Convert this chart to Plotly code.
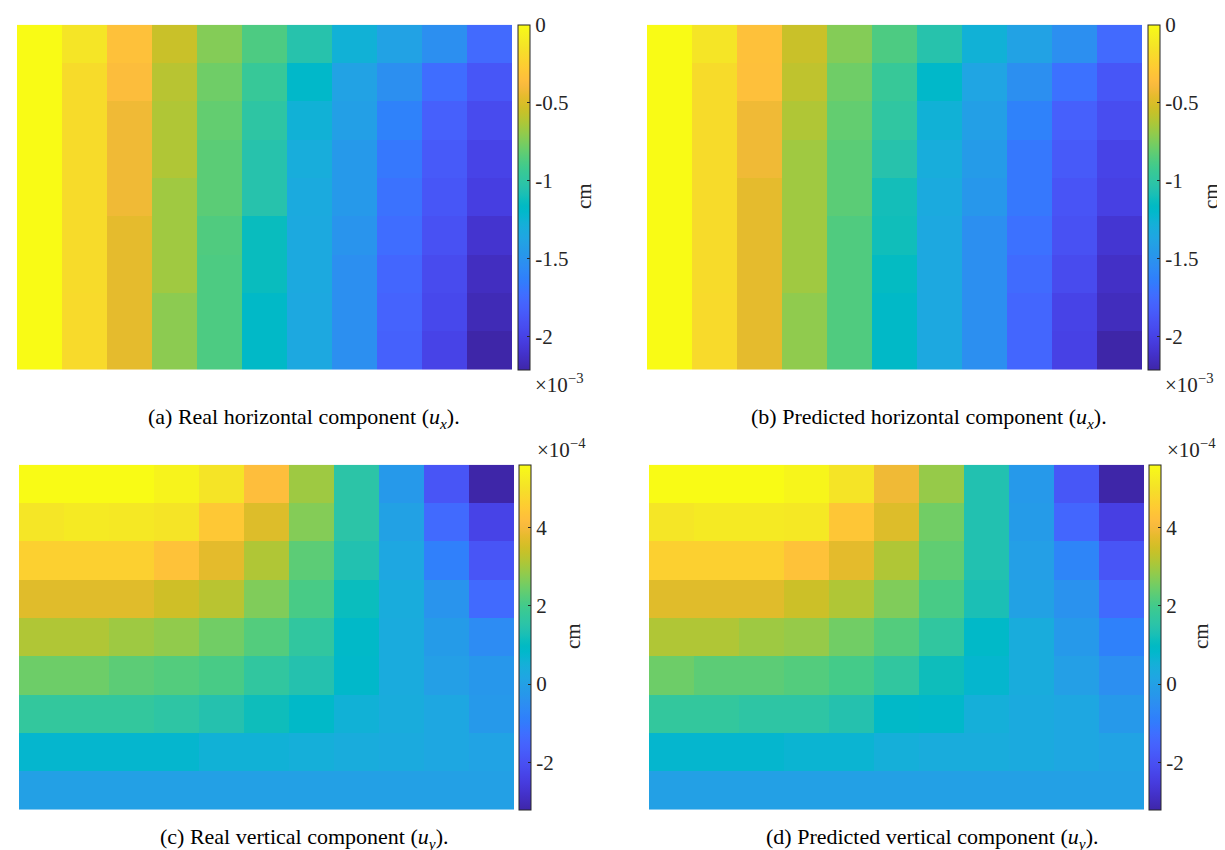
import plotly.graph_objects as go

W, H = 1225, 850

# ---------------- data ----------------
# horizontal displacement u_x, units of 1e-3 cm (rows top -> bottom, 11 columns)
ux_real = [
    [0, -0.13, -0.33, -0.55, -0.73, -0.87, -1.04, -1.26, -1.39, -1.52, -1.75],
    [0, -0.18, -0.36, -0.60, -0.78, -0.95, -1.19, -1.39, -1.52, -1.73, -1.87],
    [0, -0.18, -0.42, -0.62, -0.81, -1.00, -1.26, -1.41, -1.61, -1.81, -1.94],
    [0, -0.18, -0.42, -0.62, -0.83, -1.04, -1.30, -1.46, -1.67, -1.85, -1.99],
    [0, -0.18, -0.42, -0.66, -0.83, -1.04, -1.32, -1.46, -1.70, -1.87, -2.02],
    [0, -0.18, -0.46, -0.66, -0.86, -1.13, -1.33, -1.49, -1.73, -1.90, -2.09],
    [0, -0.18, -0.46, -0.66, -0.87, -1.13, -1.33, -1.52, -1.77, -1.94, -2.14],
    [0, -0.19, -0.46, -0.71, -0.87, -1.18, -1.34, -1.52, -1.79, -1.96, -2.17],
    [0, -0.19, -0.46, -0.71, -0.87, -1.18, -1.34, -1.52, -1.80, -1.99, -2.21],
]
ux_pred = [
    [0, -0.13, -0.33, -0.55, -0.73, -0.87, -1.04, -1.26, -1.39, -1.52, -1.75],
    [0, -0.18, -0.34, -0.58, -0.78, -0.95, -1.19, -1.37, -1.52, -1.71, -1.87],
    [0, -0.18, -0.42, -0.62, -0.81, -0.99, -1.26, -1.41, -1.61, -1.81, -1.93],
    [0, -0.18, -0.42, -0.66, -0.83, -1.04, -1.30, -1.44, -1.67, -1.85, -1.99],
    [0, -0.18, -0.46, -0.66, -0.83, -1.10, -1.32, -1.47, -1.67, -1.88, -2.01],
    [0, -0.18, -0.46, -0.66, -0.86, -1.11, -1.34, -1.52, -1.71, -1.90, -2.08],
    [0, -0.18, -0.46, -0.66, -0.86, -1.15, -1.34, -1.52, -1.74, -1.94, -2.12],
    [0, -0.19, -0.46, -0.70, -0.86, -1.18, -1.34, -1.52, -1.77, -1.99, -2.15],
    [0, -0.19, -0.46, -0.70, -0.86, -1.18, -1.34, -1.52, -1.77, -2.00, -2.21],
]
# vertical displacement u_y, units of 1e-4 cm
uy_real = [
    [5.61, 5.61, 5.61, 5.43, 5.08, 4.20, 2.96, 1.55, -0.21, -1.89, -3.21],
    [5.12, 5.21, 5.17, 5.08, 4.46, 3.67, 2.70, 1.55, 0.05, -1.36, -2.33],
    [4.64, 4.64, 4.64, 4.33, 3.76, 3.14, 2.30, 1.38, 0.23, -0.87, -1.89],
    [3.71, 3.71, 3.71, 3.49, 3.23, 2.66, 2.08, 1.11, 0.41, -0.34, -1.36],
    [3.14, 3.14, 2.96, 2.83, 2.52, 2.21, 1.69, 0.89, 0.36, -0.12, -0.56],
    [2.48, 2.48, 2.30, 2.21, 2.08, 1.69, 1.42, 0.85, 0.36, -0.03, -0.26],
    [1.73, 1.73, 1.73, 1.60, 1.42, 1.16, 0.89, 0.58, 0.41, 0.23, -0.21],
    [0.76, 0.76, 0.76, 0.76, 0.58, 0.58, 0.49, 0.41, 0.32, 0.23, 0.10],
    [0.00, 0.00, 0.00, 0.00, 0.00, 0.00, 0.00, 0.00, 0.00, 0.00, 0.00],
]
uy_pred = [
    [5.61, 5.61, 5.61, 5.47, 5.08, 3.93, 2.88, 1.38, -0.21, -1.84, -3.21],
    [5.12, 5.21, 5.21, 5.17, 4.42, 3.67, 2.52, 1.38, -0.12, -1.45, -2.42],
    [4.64, 4.64, 4.64, 4.33, 3.76, 3.14, 2.35, 1.38, -0.03, -0.74, -1.89],
    [3.71, 3.71, 3.71, 3.45, 3.14, 2.66, 2.08, 1.29, 0.05, -0.39, -1.36],
    [3.14, 3.14, 2.96, 2.88, 2.52, 2.21, 1.69, 0.89, 0.41, -0.21, -0.83],
    [2.48, 2.30, 2.30, 2.21, 2.04, 1.69, 1.16, 0.76, 0.41, -0.03, -0.48],
    [1.73, 1.73, 1.60, 1.60, 1.42, 0.89, 0.85, 0.49, 0.32, 0.23, -0.21],
    [0.76, 0.76, 0.76, 0.67, 0.67, 0.49, 0.41, 0.41, 0.32, 0.23, 0.10],
    [0.00, 0.00, 0.00, 0.00, 0.00, 0.00, 0.00, 0.00, 0.00, 0.00, 0.00],
]

ux_ticks = [0, -0.5, -1, -1.5, -2]
ux_ticktext = ["0", "-0.5", "-1", "-1.5", "-2"]
uy_ticks = [4, 2, 0, -2]
uy_ticktext = ["4", "2", "0", "-2"]

captions = [
    "(a) Real horizontal component (<i>u</i><sub><i>x</i></sub>).",
    "(b) Predicted horizontal component (<i>u</i><sub><i>x</i></sub>).",
    "(c) Real vertical component (<i>u</i><sub><i>y</i></sub>).",
    "(d) Predicted vertical component (<i>u</i><sub><i>y</i></sub>).",
]
exponents = ["×10<sup>−3</sup>", "×10<sup>−3</sup>", "×10<sup>−4</sup>", "×10<sup>−4</sup>"]
unit_label = "cm"

# MATLAB parula (64 entries)
parula = [
    [0.2422, 0.1504, 0.6603], [0.2504, 0.1650, 0.7076], [0.2578, 0.1818, 0.7511], [0.2647, 0.1978, 0.7952],
    [0.2706, 0.2147, 0.8364], [0.2751, 0.2342, 0.8710], [0.2783, 0.2559, 0.8991], [0.2803, 0.2782, 0.9221],
    [0.2813, 0.3006, 0.9414], [0.2810, 0.3228, 0.9579], [0.2795, 0.3447, 0.9717], [0.2760, 0.3667, 0.9829],
    [0.2699, 0.3892, 0.9906], [0.2602, 0.4123, 0.9952], [0.2440, 0.4358, 0.9988], [0.2206, 0.4603, 0.9973],
    [0.1963, 0.4847, 0.9892], [0.1834, 0.5074, 0.9798], [0.1786, 0.5289, 0.9682], [0.1764, 0.5499, 0.9520],
    [0.1687, 0.5703, 0.9359], [0.1540, 0.5902, 0.9218], [0.1460, 0.6091, 0.9079], [0.1380, 0.6276, 0.8973],
    [0.1248, 0.6459, 0.8883], [0.1113, 0.6635, 0.8763], [0.0952, 0.6798, 0.8598], [0.0689, 0.6948, 0.8394],
    [0.0297, 0.7082, 0.8163], [0.0036, 0.7203, 0.7917], [0.0067, 0.7312, 0.7660], [0.0433, 0.7411, 0.7394],
    [0.0964, 0.7500, 0.7120], [0.1408, 0.7584, 0.6842], [0.1717, 0.7670, 0.6554], [0.1938, 0.7758, 0.6251],
    [0.2161, 0.7843, 0.5923], [0.2470, 0.7918, 0.5567], [0.2906, 0.7973, 0.5188], [0.3406, 0.8008, 0.4789],
    [0.3909, 0.8029, 0.4354], [0.4456, 0.8024, 0.3909], [0.5044, 0.7993, 0.3480], [0.5616, 0.7942, 0.3045],
    [0.6174, 0.7876, 0.2612], [0.6720, 0.7793, 0.2227], [0.7242, 0.7698, 0.1910], [0.7738, 0.7598, 0.1646],
    [0.8203, 0.7498, 0.1535], [0.8634, 0.7406, 0.1596], [0.9035, 0.7330, 0.1774], [0.9393, 0.7288, 0.2100],
    [0.9728, 0.7298, 0.2394], [0.9956, 0.7434, 0.2371], [0.9970, 0.7659, 0.2199], [0.9952, 0.7893, 0.2028],
    [0.9892, 0.8136, 0.1885], [0.9786, 0.8386, 0.1766], [0.9676, 0.8639, 0.1643], [0.9610, 0.8890, 0.1537],
    [0.9597, 0.9135, 0.1423], [0.9628, 0.9373, 0.1265], [0.9691, 0.9606, 0.1064], [0.9769, 0.9839, 0.0805],
]
n = len(parula)
colorscale = [[i / (n - 1), "rgb(%d,%d,%d)" % tuple(round(c * 255) for c in rgb)] for i, rgb in enumerate(parula)]

FONT = "Liberation Serif"
TXT = "#262626"

# panel layout in pixels: heatmap (x0, x1, ytop, ybot), colorbar left x
panels = [
    dict(z=ux_real, hm=(9, 504, 16.7, 361.7), cb=509.5, ticks=ux_ticks, tt=ux_ticktext,
         cap=(296, 410), exp=(551, 375), unit=(576, 188)),
    dict(z=ux_pred, hm=(639, 1134, 16.7, 361.7), cb=1139.5, ticks=ux_ticks, tt=ux_ticktext,
         cap=(921, 410), exp=(1181, 375), unit=(1203, 188)),
    dict(z=uy_real, hm=(11, 506, 456.7, 801.7), cb=511, ticks=uy_ticks, tt=uy_ticktext,
         cap=(296, 830), exp=(553, 440), unit=(565, 628)),
    dict(z=uy_pred, hm=(641, 1136, 456.7, 801.7), cb=1141, ticks=uy_ticks, tt=uy_ticktext,
         cap=(924, 830), exp=(1183, 440), unit=(1193, 628)),
]

fig = go.Figure()
annotations = []
layout_axes = {}
for i, p in enumerate(panels):
    k = "" if i == 0 else str(i + 1)
    x0, x1, yt, yb = p["hm"]
    ncols = len(p["z"][0])
    nrows = len(p["z"])
    fig.add_trace(go.Heatmap(
        z=p["z"], xaxis="x" + k, yaxis="y" + k,
        colorscale=colorscale, hoverinfo="skip",
        colorbar=dict(
            x=p["cb"] / W, xanchor="left", xpad=0, ypad=0,
            y=1 - yt / H, yanchor="top",
            len=yb - yt, lenmode="pixels",
            thickness=12, thicknessmode="pixels",
            outlinewidth=1, outlinecolor=TXT,
            tickmode="array", tickvals=p["ticks"], ticktext=p["tt"],
            ticks="inside", ticklen=3, tickwidth=1, tickcolor=TXT,
            tickfont=dict(family=FONT, size=21, color=TXT),
        ),
    ))
    layout_axes["xaxis" + k] = dict(domain=[x0 / W, x1 / W], range=[-0.5, ncols - 0.5],
                                    visible=False, fixedrange=True, anchor="y" + k)
    layout_axes["yaxis" + k] = dict(domain=[1 - yb / H, 1 - yt / H], range=[nrows - 0.5, -0.5],
                                    visible=False, fixedrange=True, anchor="x" + k)
    annotations.append(dict(text=captions[i], x=p["cap"][0] / W, y=1 - p["cap"][1] / H,
                            xref="paper", yref="paper", showarrow=False,
                            xanchor="center", yanchor="middle",
                            font=dict(family=FONT, size=22, color="black")))
    annotations.append(dict(text=exponents[i], x=p["exp"][0] / W, y=1 - p["exp"][1] / H,
                            xref="paper", yref="paper", showarrow=False,
                            xanchor="center", yanchor="middle",
                            font=dict(family=FONT, size=21, color=TXT)))
    annotations.append(dict(text=unit_label, x=p["unit"][0] / W, y=1 - p["unit"][1] / H,
                            xref="paper", yref="paper", showarrow=False, textangle=-90,
                            xanchor="center", yanchor="middle",
                            font=dict(family=FONT, size=21, color=TXT)))

fig.update_layout(
    width=W, height=H,
    margin=dict(l=0, r=0, t=0, b=0),
    paper_bgcolor="white", plot_bgcolor="white",
    showlegend=False,
    annotations=annotations,
    **layout_axes,
)

fig.write_html("out.html")
